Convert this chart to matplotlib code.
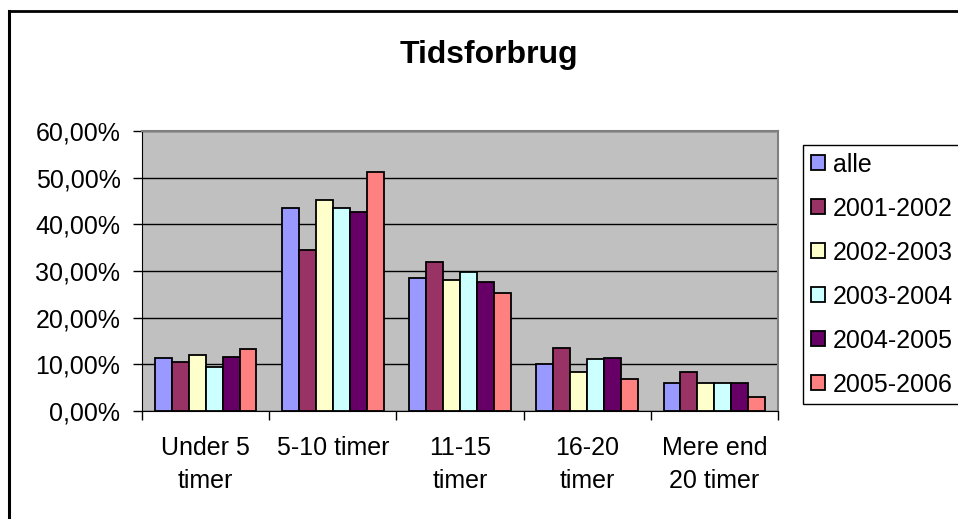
import matplotlib.pyplot as plt
import numpy as np
from matplotlib.ticker import FuncFormatter
from matplotlib.lines import Line2D

categories = ["Under 5\ntimer", "5-10 timer", "11-15\ntimer", "16-20\ntimer", "Mere end\n20 timer"]
series = ["alle", "2001-2002", "2002-2003", "2003-2004", "2004-2005", "2005-2006"]
alle = [11.4, 43.5, 28.5, 10.1, 5.9]
y2001 = [10.6, 34.5, 31.9, 13.6, 8.4]
y2002 = [11.9, 45.2, 28.1, 8.4, 5.9]
y2003 = [9.4, 43.5, 29.8, 11.1, 5.9]
y2004 = [11.5, 42.7, 27.7, 11.4, 5.9]
y2005 = [13.2, 51.2, 25.2, 6.8, 2.9]
colors = ["#9999FF", "#993366", "#FFFFCC", "#CCFFFF", "#660066", "#FF8080"]

plt.rcParams['font.family'] = ['Liberation Sans', 'DejaVu Sans']

fig = plt.figure(figsize=(9.58, 5.19), dpi=100)
# chart border (only top and left edges are visible in the frame)
fig.lines.append(Line2D([9 / 958, 1], [1 - 11 / 519, 1 - 11 / 519], transform=fig.transFigure,
                        color='black', linewidth=2))
fig.lines.append(Line2D([9 / 958, 9 / 958], [0, 1 - 11 / 519], transform=fig.transFigure,
                        color='black', linewidth=2.2))

ax = fig.add_axes([142 / 958, 108 / 519, 636 / 958, 280 / 519])
ax.set_facecolor('#C0C0C0')

x = np.arange(len(categories))
w = 0.8 / len(series)
data = [alle, y2001, y2002, y2003, y2004, y2005]
for i, vals in enumerate(data):
    ax.bar(x - 0.4 + w * (i + 0.5), vals, width=w, color=colors[i],
           edgecolor='black', linewidth=1.3, label=series[i], zorder=3)

ax.set_ylim(0, 60)
ax.set_xlim(-0.5, len(categories) - 0.5)
ax.set_yticks(range(0, 61, 10))
ax.yaxis.set_major_formatter(FuncFormatter(lambda v, p: f"{v:.2f}%".replace('.', ',')))
ax.yaxis.grid(True, color='black', linewidth=1, zorder=1)
ax.set_axisbelow(True)

ax.set_xticks(x)
ax.set_xticklabels(categories, fontsize=18, linespacing=1.5)
ax.tick_params(axis='x', length=0, pad=18)
ax.set_xticks(np.arange(-0.5, len(categories)), minor=True)
ax.tick_params(axis='x', which='minor', length=6.5, width=1)
ax.tick_params(axis='y', labelsize=18, length=6.5, width=1, pad=9)

for s in ['top', 'right']:
    ax.spines[s].set_color('#808080')
    ax.spines[s].set_linewidth(1.5)
for s in ['left', 'bottom']:
    ax.spines[s].set_color('black')

fig.text(489 / 958, 1 - 63 / 519, "Tidsforbrug", ha='center', va='baseline', fontsize=23, fontweight='bold')

leg = fig.legend(loc='upper left', bbox_to_anchor=(803 / 958, 1 - 145 / 519), fontsize=18,
                 frameon=True, fancybox=False, edgecolor='black', framealpha=1,
                 handlelength=0.56, handleheight=0.56, handletextpad=0.32,
                 labelspacing=0.8, borderpad=0.3, borderaxespad=0)
leg.get_frame().set_linewidth(1)

fig.savefig("out.png", dpi=100)
